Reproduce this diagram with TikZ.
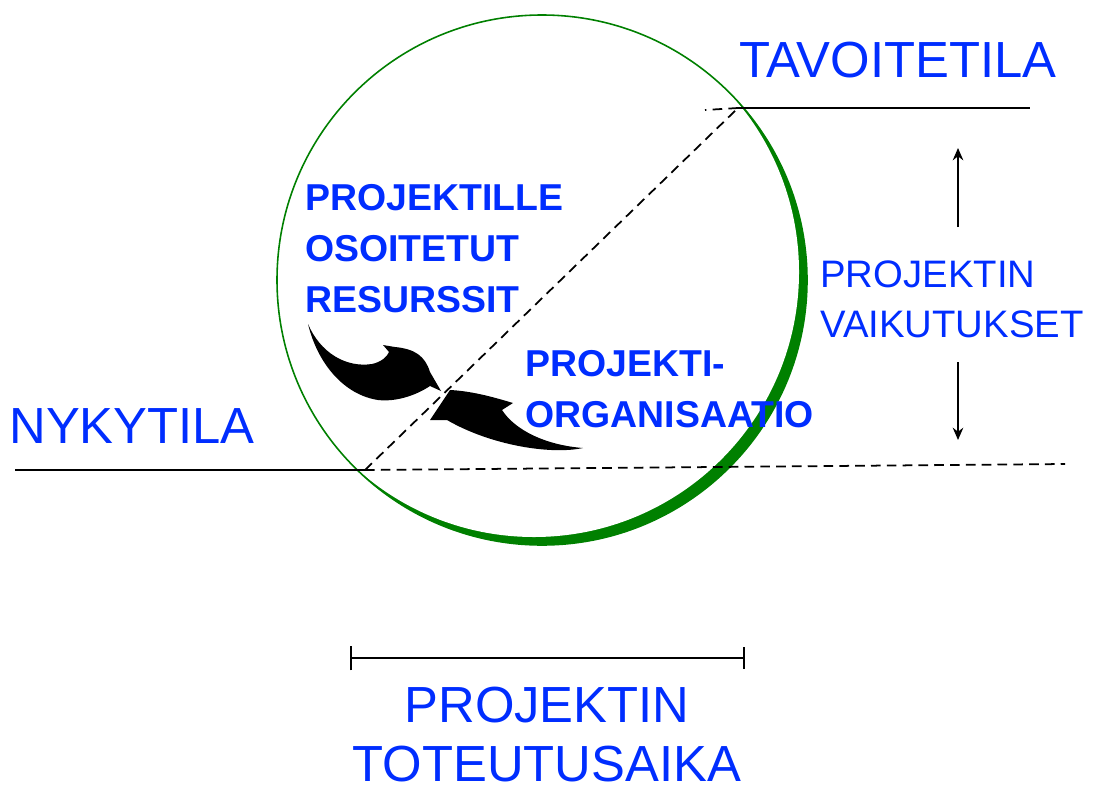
\documentclass[tikz,border=0pt]{standalone}
\usepackage{fontspec}
\setmainfont{Liberation Sans}
\usepackage{tikz}
\usetikzlibrary{positioning}
\usetikzlibrary{arrows.meta}
\usetikzlibrary{calc}
\definecolor{labelblue}{RGB}{0,45,255}
\definecolor{ringgreen}{RGB}{0,128,0}
\tikzstyle{arrow} = [line width=1pt,-{Stealth[length=7pt,width=6pt]}]
\tikzstyle{level} = [line width=1pt]
\tikzstyle{path} = [line width=1pt, dash pattern=on 5.5pt off 3.5pt]

\begin{document}
\begin{tikzpicture}[
    x = 0.02cm, y = -0.02cm,
    every node/.style = {inner sep = 0pt, text = labelblue},
    biglabel/.style = {font = \fontsize{28.9pt}{33.4pt}\selectfont},
    sidelabel/.style = {font = \fontsize{21.8pt}{28.3pt}\selectfont},
    boldlabel/.style = {font = \bfseries\fontsize{21.3pt}{28.8pt}\selectfont}
  ]
  \useasboundingbox (0,0) rectangle (1094,791);

  % Ring, thicker on the lower right
  \fill[ringgreen] (542,280) circle (265);
  \fill[white] (534,272) circle (265);
  \draw[ringgreen, line width=0.9pt] (542,280) circle (265);

  \coordinate (nyky) at (365,470);
  \coordinate (nykyL) at (15,470);
  \coordinate (nykyR) at (1065,464);
  \coordinate (tavo) at (738,108);
  \coordinate (tavoL) at (705,110);
  \coordinate (tavoR) at (1030,108);

  % Levels
  \draw[level] (nykyL) -- (nyky);
  \draw[level] (tavo) -- (tavoR);
  \draw[path] (nyky) -- (nykyR);
  \draw[path] (nyky) -- (tavo);
  \draw[path] (tavo) -- (tavoL);

  % Labels (base = last line)
  \node[biglabel, anchor = base west] (tavoite) at (739,77) {TAVOITETILA};
  \node[biglabel, anchor = base west] (nykytila) at (9,443) {NYKYTILA};
  \node[biglabel, anchor = base, align = center] (toteutus) at (547,781) {PROJEKTIN\\TOTEUTUSAIKA};
  \node[sidelabel, anchor = base west, align = left] (vaikutukset) at (820,337) {PROJEKTIN\\VAIKUTUKSET};
  \node[boldlabel, anchor = base west, align = left] (resurssit) at (305,312) {PROJEKTILLE\\OSOITETUT\\RESURSSIT};
  \node[boldlabel, anchor = base west, align = left] (organisaatio) at (525,427) {PROJEKTI-\\ORGANISAATIO};

  % Effect arrows
  \coordinate (upS) at (958,227);
  \coordinate (upE) at (958,148);
  \coordinate (downS) at (958,362);
  \coordinate (downE) at (958,440);
  \draw[arrow] (upS) -- (upE);
  \draw[arrow] (downS) -- (downE);

  % Duration bar
  \coordinate (startT) at (350,658);
  \coordinate (endT) at (745,658);
  \draw[line width=1pt, {Bar[width=14pt]}-{Bar[width=12pt]}] (startT) -- (endT);

  % Swooshes
  \fill[black] (308,324) .. controls (320,352) and (345,368) .. (372,364)
    .. controls (381,362) and (387,357) .. (389,352) -- (383,345) -- (395,347)
    .. controls (415,349) and (425,356) .. (430,372) -- (441,391) -- (430,386)
    .. controls (415,396) and (395,402) .. (378,400)
    .. controls (345,395) and (318,365) .. (308,324) -- cycle;
  \fill[black] (430,420) -- (450,390) .. controls (470,391) and (490,396) .. (513,403)
    -- (502,410) .. controls (515,430) and (545,445) .. (583,448)
    .. controls (550,455) and (490,445) .. (447,420) -- cycle;
\end{tikzpicture}
\end{document}
